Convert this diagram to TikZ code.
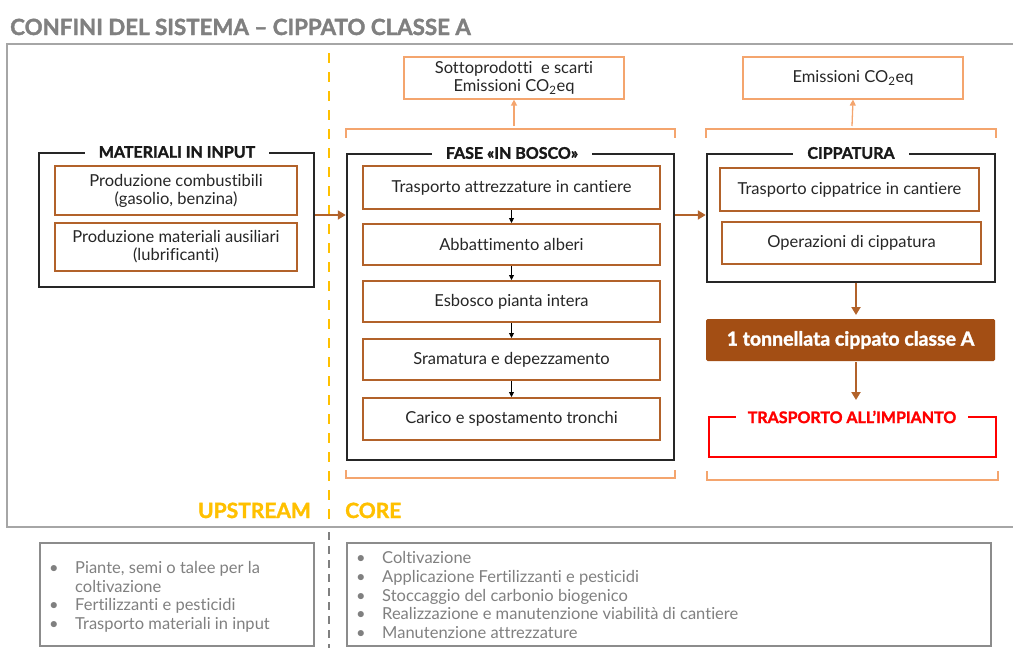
\documentclass[tikz,border=0pt]{standalone}
\usepackage{fontspec}
\setmainfont{Lato}[Ligatures={NoCommon}]
\newfontfamily\hvy{Lato}[Ligatures={NoCommon}, BoldFeatures={FakeBold=1.6}]
\usetikzlibrary{arrows.meta}
\definecolor{brn}{RGB}{178,98,42}
\definecolor{brnfill}{RGB}{163,78,20}
\definecolor{lor}{RGB}{244,165,110}
\definecolor{ylw}{RGB}{255,192,0}
\definecolor{gtxt}{RGB}{128,128,128}
\definecolor{gline}{RGB}{166,166,166}
\definecolor{gbox}{RGB}{140,140,140}
\definecolor{rd}{RGB}{255,0,0}
\newcommand\bx[7]{\node[#6, minimum width={(#4-#2)*1pt}, minimum height={(#5-#3)*1pt}, inner sep=0pt, align=center] (#1) at ({(#2+#4)/2},{(#3+#5)/2}) {#7};}
\begin{document}
\begin{tikzpicture}[x=1pt,y=-1pt,
  txt/.style={font=\fontsize{16.5}{18}\selectfont, text=black!85},
  inbox/.style={draw=brn, line width=2pt, txt},
  blk/.style={draw=black!85, line width=2.5pt},
  redbox/.style={draw=rd, line width=2pt},
  lorbox/.style={draw=lor, line width=1.2pt, txt},
  ttl/.style={fill=white, inner xsep=14pt, inner ysep=1pt, font=\fontsize{16}{18}\selectfont\hvy\bfseries, text=black!90},
  barrow/.style={draw=brn, line width=2pt, -{Triangle[length=8pt,width=9pt]}},
  karrow/.style={draw=black, line width=0.8pt, -{Triangle[length=5pt,width=5pt]}},
  oarrow/.style={draw=lor, line width=1.3pt, -{Triangle[length=6pt,width=6pt]}},
  brk/.style={draw=lor, line width=1.2pt},
  gt/.style={font=\fontsize{16.5}{18}\selectfont, text=gtxt, anchor=base west, inner sep=0pt},
]
\useasboundingbox (0,0) rectangle (1013,648);
% title
\node[anchor=base west, inner sep=0pt, font=\fontsize{22.3}{24}\selectfont\hvy\bfseries, text=gtxt] (title) at (10,35) {CONFINI DEL SISTEMA – CIPPATO CLASSE A};
% outer frame
\draw[gline, line width=1.3pt] (1013,44) -- (7,44) -- (7,527) -- (1013,527);
% dashed divider
\draw[ylw, line width=2.5pt, dash pattern=on 10pt off 9pt] (329,53) -- (329,522);
\draw[gtxt, line width=1.6pt, dash pattern=on 8pt off 6pt] (329,532) -- (329,648);

% MATERIALI IN INPUT
\bx{mat}{39}{153}{314}{287}{blk}{}
\node[ttl] (matt) at (177,152) {MATERIALI IN INPUT};
\bx{m1}{55}{166}{297}{215}{inbox}{Produzione combustibili\\(gasolio, benzina)}
\bx{m2}{55}{223}{297}{271}{inbox}{Produzione materiali ausiliari\\(lubrificanti)}

% FASE IN BOSCO
\bx{sotto}{404}{57}{624}{99}{lorbox}{Sottoprodotti\ \ e scarti\\Emissioni CO\textsubscript{2}eq}
\draw[brk] (346,138) -- (346,129) -- (675,129) -- (675,138);
\coordinate (b1) at (514,126);
\draw[oarrow] (b1) -- (sotto.south);
\bx{fase}{347}{154}{674}{460}{blk}{}
\node[ttl] (faset) at (512,153) {FASE «IN BOSCO»};
\bx{f1}{363}{166}{660}{209}{inbox}{Trasporto attrezzature in cantiere}
\bx{f2}{363}{224}{660}{265}{inbox}{Abbattimento alberi}
\bx{f3}{363}{281}{660}{322}{inbox}{Esbosco pianta intera}
\bx{f4}{363}{339}{660}{380}{inbox}{Sramatura e depezzamento}
\bx{f5}{363}{398}{660}{440}{inbox}{Carico e spostamento tronchi}
\draw[karrow] (f1.south) -- (f2.north);
\draw[karrow] (f2.south) -- (f3.north);
\draw[karrow] (f3.south) -- (f4.north);
\draw[karrow] (f4.south) -- (f5.north);
\draw[brk] (346,470) -- (346,478) -- (675,478) -- (675,470);

% CIPPATURA
\bx{emi}{743}{57}{963}{99}{lorbox}{Emissioni CO\textsubscript{2}eq}
\draw[brk] (706,138) -- (706,129) -- (996,129) -- (996,138);
\coordinate (b2) at (852,126);
\draw[oarrow] (b2) -- (emi.south);
\bx{cip}{707}{154}{995}{282}{blk}{}
\node[ttl] (cipt) at (851,153) {CIPPATURA};
\bx{c1}{720}{168}{979}{211}{inbox}{Trasporto cippatrice in cantiere}
\bx{c2}{722}{222}{981}{264}{inbox}{Operazioni di cippatura}

% flow arrows
\coordinate (yarr) at (0,215);
\draw[barrow] (mat.east |- yarr) -- (fase.west |- yarr);
\draw[barrow] (fase.east |- yarr) -- (cip.west |- yarr);

\bx{ton}{706}{319}{995}{361}{fill=brnfill, rounded corners=1.5pt, text=white, font=\fontsize{19.5}{20}\selectfont\hvy\bfseries}{1 tonnellata cippato classe A}
\coordinate (cs) at (856,283);
\coordinate (te) at (856,315);
\draw[barrow] (cs) -- (te);
\bx{tra}{709}{417}{996}{457}{redbox}{}
\node[ttl, text=rd, inner xsep=12pt] (trat) at (852,417) {TRASPORTO ALL’IMPIANTO};
\coordinate (ts) at (856,362);
\coordinate (re) at (856,400);
\draw[barrow] (ts) -- (re);
\draw[brk] (707,471) -- (707,480) -- (998,480) -- (998,471);

% UPSTREAM / CORE
\node[anchor=base east, inner sep=0pt, font=\fontsize{21}{22}\selectfont\hvy\bfseries, text=ylw] (up) at (311,518) {UPSTREAM};
\node[anchor=base west, inner sep=0pt, font=\fontsize{21}{22}\selectfont\hvy\bfseries, text=ylw] (core) at (345,518) {CORE};

% bottom boxes
\draw[gbox, line width=2pt] (40,543) rectangle (314,646);
\node[gt] (l1b) at (49,573) {•};
\node[gt] (l1) at (75,573) {Piante, semi o talee per la};
\node[gt] (l1c) at (75,592) {coltivazione};
\node[gt] (l2b) at (49,610) {•};
\node[gt] (l2) at (75,610) {Fertilizzanti e pesticidi};
\node[gt] (l3b) at (49,629) {•};
\node[gt] (l3) at (75,629) {Trasporto materiali in input};

\draw[gbox, line width=2pt] (347,543) rectangle (991,646);
\node[gt] (r1b) at (356,563) {•};
\node[gt] (r1) at (382,563) {Coltivazione};
\node[gt] (r2b) at (356,582) {•};
\node[gt] (r2) at (382,582) {Applicazione Fertilizzanti e pesticidi};
\node[gt] (r3b) at (356,601) {•};
\node[gt] (r3) at (382,601) {Stoccaggio del carbonio biogenico};
\node[gt] (r4b) at (356,619) {•};
\node[gt] (r4) at (382,619) {Realizzazione e manutenzione viabilità di cantiere};
\node[gt] (r5b) at (356,638) {•};
\node[gt] (r5) at (382,638) {Manutenzione attrezzature};
\end{tikzpicture}
\end{document}
